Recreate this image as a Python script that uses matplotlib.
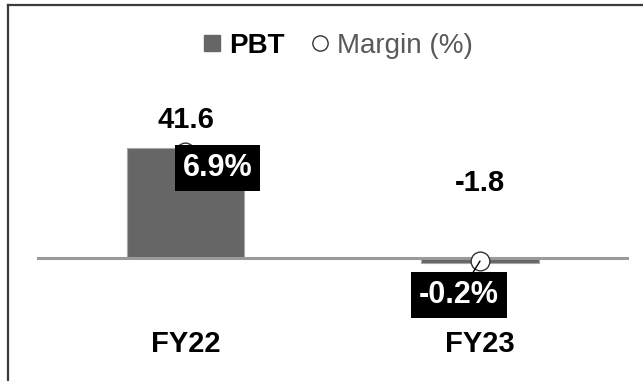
import matplotlib.pyplot as plt
from matplotlib.lines import Line2D

# data
years = ["FY22", "FY23"]
pbt = [41.6, -1.8]
margin = [6.9, -0.2]
pbt_labels = ["41.6", "-1.8"]
margin_labels = ["6.9%", "-0.2%"]

plt.rcParams["font.family"] = ["Liberation Sans", "DejaVu Sans"]

W, H, DPI = 643, 381, 100
fig = plt.figure(figsize=(W / DPI, H / DPI), dpi=DPI)
ax = fig.add_axes([0, 0, 1, 1])
ax2 = ax.twinx()

# scales: zero line sits at 258 px from top
zero_px = 258
bar_px = 2.644      # px per PBT unit
pct_px = 15.4       # px per margin point
ax.set_ylim(-(H - zero_px) / bar_px, zero_px / bar_px)
ax2.set_ylim(-(H - zero_px) / pct_px, zero_px / pct_px)
step_px, x0_px = 294.5, 185.5
ax.set_xlim(-x0_px / step_px, (W - x0_px) / step_px)

x = list(range(len(years)))
ax.bar(x, pbt, width=0.40, color="#666666", edgecolor="#a8a8a8",
       linewidth=0.8, zorder=2)
ax.axhline(0, xmin=38 / W, xmax=627 / W, color="#9a9a9a", lw=2.2, zorder=3)

ax2.plot(x, margin, ls="none", marker="o", markersize=13.5,
         mfc="white", mec="#333333", mew=1.0, zorder=4)

for a in (ax, ax2):
    a.axis("off")

# PBT value labels
pbt_offsets = [28, 75]
for xi, v, lab, off in zip(x, pbt, pbt_labels, pbt_offsets):
    ax.annotate(lab, (xi, max(v, 0)), xytext=(0, off), textcoords="offset pixels",
                ha="center", va="center", fontsize=21, fontweight="bold",
                color="black", zorder=5)

# margin labels in black boxes
box_offsets = [(32, -16), (-21, -34)]
for xi, v, lab, off in zip(x, margin, margin_labels, box_offsets):
    ax2.annotate(lab, (xi, v), xytext=off, textcoords="offset pixels",
                 ha="center", va="center", fontsize=22, fontweight="bold",
                 color="white", zorder=6,
                 bbox=dict(boxstyle="square,pad=0.26", fc="black", ec="none"),
                 arrowprops=dict(arrowstyle="-", color="black", lw=1,
                                 shrinkA=0, shrinkB=0))

# category labels
for xi, name in zip(x, years):
    ax.text(xi, 1 - 344 / H, name, transform=ax.get_xaxis_transform(),
            ha="center", va="center", fontsize=21, fontweight="bold")

# legend
handles = [
    Line2D([], [], ls="none", marker="s", markersize=11, color="#666666"),
    Line2D([], [], ls="none", marker="o", markersize=11, mfc="white",
           mec="#333333", mew=1.0),
]
leg = fig.legend(handles, ["PBT", "Margin (%)"], loc="center",
                 bbox_to_anchor=(337 / W, 1 - 46 / H), ncol=2, frameon=False,
                 fontsize=20, handlelength=0.8, handletextpad=0.2,
                 columnspacing=0.9)
leg.get_texts()[0].set_fontweight("bold")
leg.get_texts()[1].set_color("#595959")

# outer frame (left and top edges)
fig.add_artist(Line2D([8 / W, 8 / W], [0, 1 - 5 / H], color="#3a3a3a", lw=1.6))
fig.add_artist(Line2D([8 / W, 1], [1 - 5 / H, 1 - 5 / H], color="#3a3a3a", lw=1.6))

fig.savefig("out.png", dpi=DPI)
